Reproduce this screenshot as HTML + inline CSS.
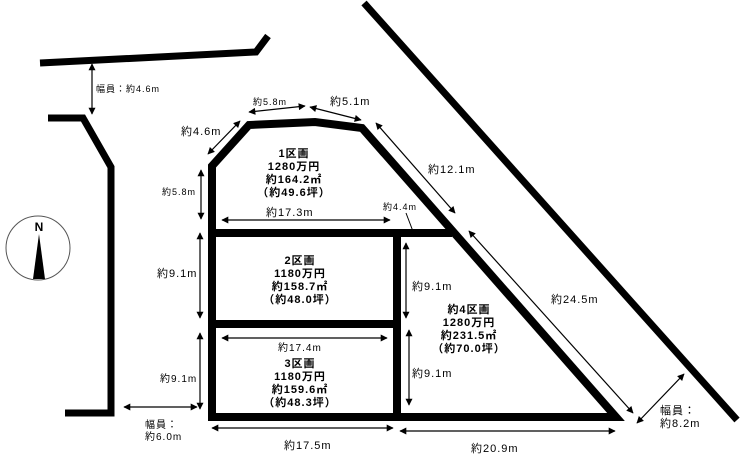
<!DOCTYPE html>
<html><head><meta charset="utf-8"><style>
html,body{margin:0;padding:0;background:#fff;}
svg{display:block;}
text{font-family:"Liberation Sans","Noto Sans CJK JP",sans-serif;fill:#000;letter-spacing:1px;}
</style></head><body>
<svg width="740" height="471" viewBox="0 0 740 471" xmlns="http://www.w3.org/2000/svg">
<defs>
<marker id="a" viewBox="0 0 10 10" refX="9" refY="5" markerWidth="9" markerHeight="7" orient="auto-start-reverse" markerUnits="userSpaceOnUse"><path d="M0,0 L10,5 L0,10 z" fill="#000"/></marker>
</defs>
<g fill="none" stroke="#000" stroke-width="7" stroke-linejoin="miter">
<polyline points="40,63 256,52 268,36"/>
<polyline points="48,118 83,118 111,167 111,413 65,413"/>
<line x1="364" y1="3" x2="737" y2="420"/>
</g>
<g fill="none" stroke="#000" stroke-width="8" stroke-linejoin="miter">
<polygon points="212,417 212,166 249,125 315,122 362,128 616,417"/>
<line x1="212" y1="233" x2="452" y2="233"/>
<line x1="212" y1="324" x2="396" y2="324"/>
<line x1="397" y1="233" x2="397" y2="417"/>
</g>
<g stroke="#000" stroke-width="1.2" fill="none" marker-start="url(#a)" marker-end="url(#a)">
<line x1="92" y1="64" x2="92" y2="114"/>
<line x1="208" y1="154" x2="240" y2="121"/>
<line x1="249" y1="112" x2="305" y2="106"/>
<line x1="310" y1="107" x2="361" y2="120"/>
<line x1="376" y1="123" x2="455" y2="213"/>
<line x1="201" y1="170" x2="201" y2="219"/>
<line x1="222" y1="220" x2="390" y2="220"/>
<line x1="200" y1="233" x2="200" y2="318"/>
<line x1="200" y1="333" x2="200" y2="409"/>
<line x1="222" y1="338" x2="387" y2="338"/>
<line x1="212" y1="428" x2="393" y2="428"/>
<line x1="124" y1="407" x2="197" y2="407"/>
<line x1="406" y1="243" x2="406" y2="318"/>
<line x1="409" y1="330" x2="409" y2="405"/>
<line x1="400" y1="431" x2="615" y2="431"/>
<line x1="469" y1="231" x2="633" y2="413"/>
<line x1="637" y1="423" x2="684" y2="374"/>
</g>
<line x1="406" y1="213" x2="414" y2="234" stroke="#000" stroke-width="1"/>
<circle cx="38" cy="248" r="32" fill="none" stroke="#555" stroke-width="1"/>
<polygon points="39,234 33,279 45,279" fill="#000"/>
<text x="39" y="231" font-size="12" text-anchor="middle" font-family="Liberation Serif" font-weight="bold" style="letter-spacing:0">N</text>
<g font-size="11">
<text x="96" y="92" font-size="9">幅員：約4.6m</text>
<text x="181" y="135">約4.6m</text>
<text x="253" y="105" font-size="9">約5.8m</text>
<text x="330" y="105">約5.1m</text>
<text x="428" y="173">約12.1m</text>
<text x="162" y="195" font-size="9">約5.8m</text>
<text x="266" y="216">約17.3m</text>
<text x="383" y="210" font-size="9">約4.4m</text>
<text x="157" y="277">約9.1m</text>
<text x="160" y="382" font-size="10">約9.1m</text>
<text x="278" y="351" font-size="10">約17.4m</text>
<text x="284" y="449">約17.5m</text>
<text x="145" y="428" font-size="10">幅員：</text>
<text x="145" y="440" font-size="10">約6.0m</text>
<text x="412" y="290">約9.1m</text>
<text x="412" y="377">約9.1m</text>
<text x="471" y="452">約20.9m</text>
<text x="551" y="303">約24.5m</text>
<text x="660" y="414">幅員：</text>
<text x="660" y="427">約8.2m</text>
</g>
<g font-size="11" text-anchor="middle" font-weight="bold">
<text x="294" y="157">1区画</text>
<text x="294" y="170">1280万円</text>
<text x="294" y="183">約164.2㎡</text>
<text x="294" y="196">（約49.6坪）</text>
<text x="300" y="264">2区画</text>
<text x="300" y="277">1180万円</text>
<text x="300" y="290">約158.7㎡</text>
<text x="300" y="303">（約48.0坪）</text>
<text x="300" y="367">3区画</text>
<text x="300" y="380">1180万円</text>
<text x="300" y="393">約159.6㎡</text>
<text x="300" y="406">（約48.3坪）</text>
<text x="469" y="313">約4区画</text>
<text x="469" y="326">1280万円</text>
<text x="469" y="339">約231.5㎡</text>
<text x="469" y="352">（約70.0坪）</text>
</g>
</svg>
</body></html>
